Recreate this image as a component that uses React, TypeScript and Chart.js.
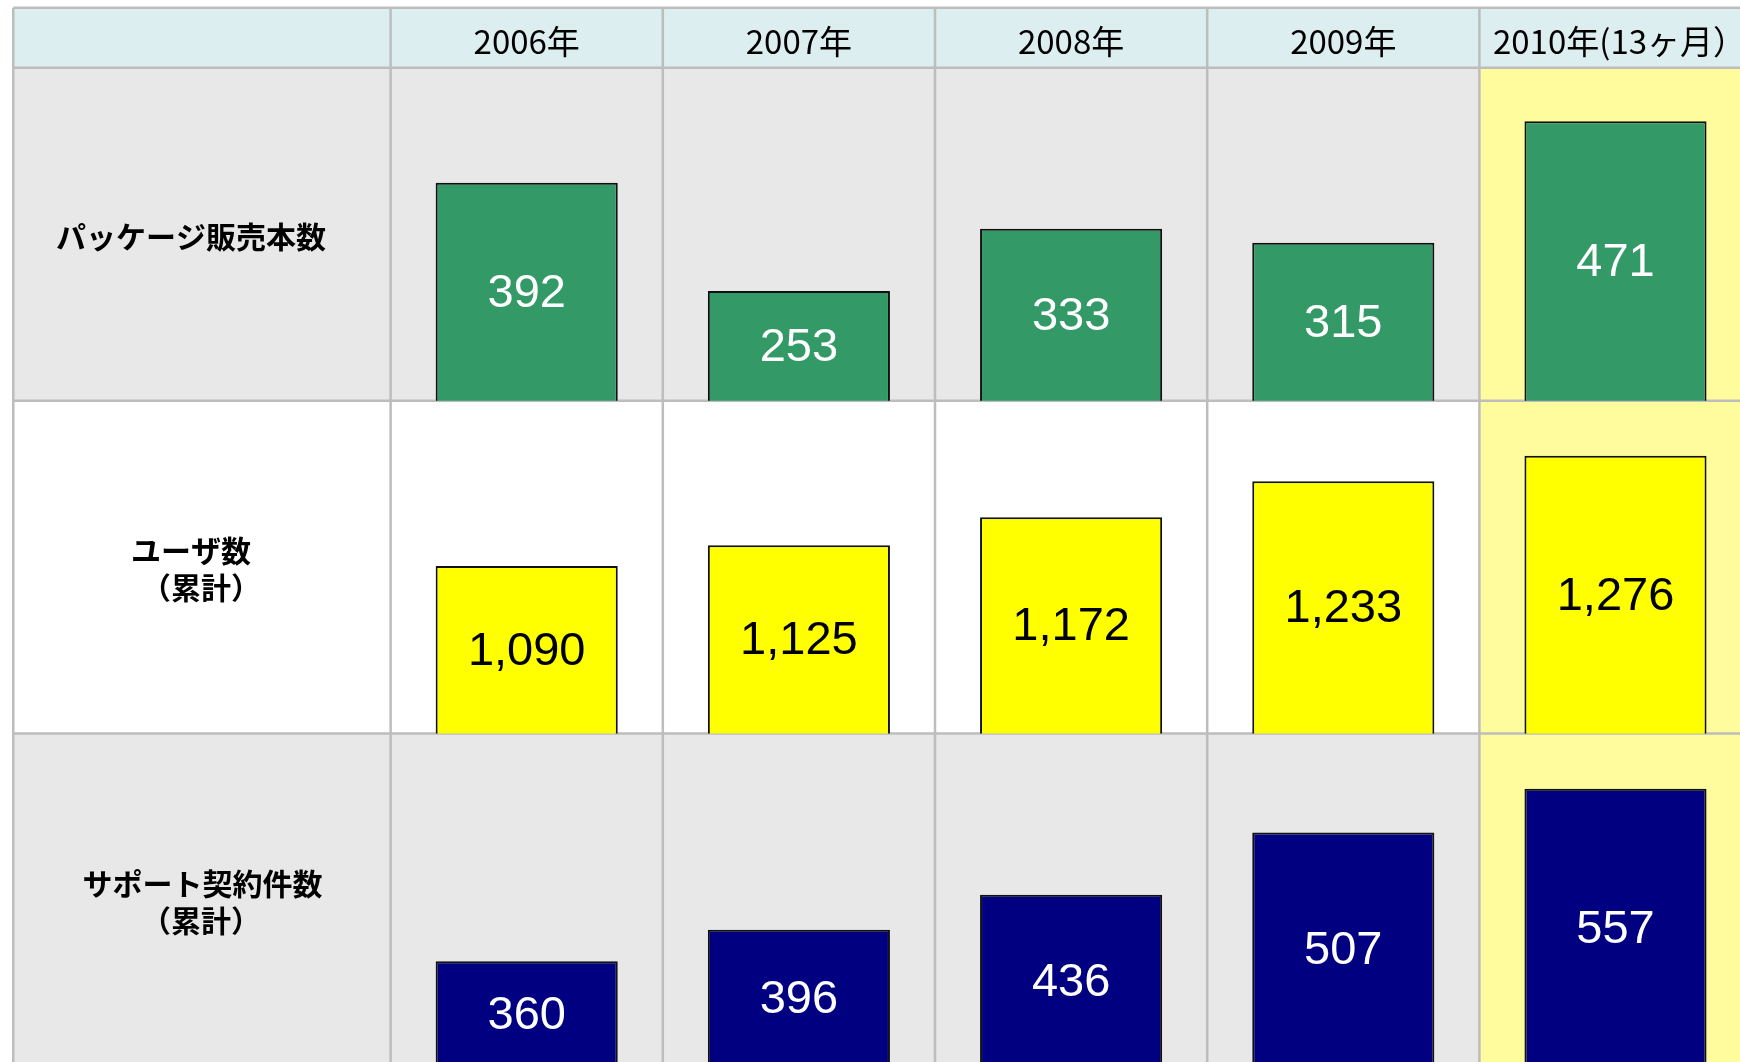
import React, { useEffect, useRef } from "react";
import { Chart, registerables } from "chart.js";

Chart.register(...registerables);

const years = ["2006年", "2007年", "2008年", "2009年", "2010年(13ヶ月）"];
const packageSales = [392, 253, 333, 315, 471];
const usersTotal = [1090, 1125, 1172, 1233, 1276];
const supportContracts = [360, 396, 436, 507, 557];
const rowLabels = [["パッケージ販売本数"], ["ユーザ数", "（累計）"], ["サポート契約件数", "（累計）"]];

const GRID = "#BDBDBD";
const ROW_BG = ["#E8E8E8", "#FFFFFF", "#E8E8E8"];
const HEADER_BG = "#DCEEF0";
const HIGHLIGHT_BG = "#FEFC9C";
const TABLE_LEFT = 13.3;
const TABLE_TOP = 7.8;

const tablePlugin = {
  id: "tableGrid",
  beforeDatasetsDraw(chart: any) {
    const { ctx, chartArea: a, scales } = chart;
    const W = chart.width;
    const colW = (a.right - a.left) / years.length;
    const rows = [scales.y1, scales.y2, scales.y3];
    ctx.save();
    ctx.fillStyle = HEADER_BG;
    ctx.fillRect(TABLE_LEFT, TABLE_TOP, W - TABLE_LEFT, a.top - TABLE_TOP);
    rows.forEach((s: any, i: number) => {
      ctx.fillStyle = ROW_BG[i];
      ctx.fillRect(TABLE_LEFT, s.top, W - TABLE_LEFT, s.bottom - s.top);
    });
    ctx.fillStyle = HIGHLIGHT_BG;
    ctx.fillRect(a.left + colW * (years.length - 1), a.top, colW, a.bottom - a.top);
    ctx.strokeStyle = GRID;
    ctx.lineWidth = 2.5;
    ctx.beginPath();
    const vx = [TABLE_LEFT];
    for (let i = 0; i <= years.length; i++) vx.push(a.left + colW * i);
    vx.forEach((x) => {
      ctx.moveTo(x, TABLE_TOP);
      ctx.lineTo(x, a.bottom);
    });
    const hy = [TABLE_TOP, a.top];
    rows.forEach((s: any) => hy.push(s.bottom));
    hy.forEach((y) => {
      ctx.moveTo(TABLE_LEFT, y);
      ctx.lineTo(W, y);
    });
    ctx.stroke();
    ctx.fillStyle = "#000";
    ctx.textAlign = "center";
    ctx.textBaseline = "middle";
    ctx.font = '33px "Noto Sans CJK JP"';
    years.forEach((t, i) => {
      ctx.fillText(t, scales.x.getPixelForValue(i) + (i === years.length - 1 ? 4 : 0), 41);
    });
    ctx.font = 'bold 30px "Noto Sans CJK JP"';
    const lineOffsets = [[-11], [-11, -1], [0.5, -1]];
    rows.forEach((s: any, i: number) => {
      const lines = rowLabels[i];
      const cy = (s.top + s.bottom) / 2;
      const lh = 37;
      lines.forEach((ln, j) => {
        const y = cy + (j - (lines.length - 1) / 2) * lh + 2;
        ctx.fillText(ln, (TABLE_LEFT + a.left) / 2 + lineOffsets[i][j], y);
      });
    });
    ctx.restore();
  },
  afterDatasetsDraw(chart: any) {
    const { ctx } = chart;
    ctx.save();
    ctx.textAlign = "center";
    ctx.textBaseline = "middle";
    ctx.font = '47px "Liberation Sans", Arial, sans-serif';
    chart.data.datasets.forEach((ds: any, di: number) => {
      const meta = chart.getDatasetMeta(di);
      const yScale = chart.scales[meta.yAxisID];
      const basePx = yScale.getPixelForValue(yScale.min);
      meta.data.forEach((bar: any, i: number) => {
        const v = ds.data[i];
        ctx.fillStyle = ds.labelColor;
        ctx.fillText(v.toLocaleString("en-US"), bar.x, (bar.y + basePx) / 2 + 2);
      });
    });
    ctx.restore();
  },
};

export default function App() {
  const ref = useRef<HTMLCanvasElement>(null);
  useEffect(() => {
    const canvas = ref.current!;
    const barCommon = {
      borderColor: "#111111",
      borderWidth: 2,
      grouped: false,
      barPercentage: 0.669,
      categoryPercentage: 1,
    };
    const chart = new Chart(canvas, {
      type: "bar",
      data: {
        labels: years,
        datasets: [
          { label: rowLabels[0].join(""), data: packageSales, yAxisID: "y1", backgroundColor: "#339966", labelColor: "#FFFFFF", ...barCommon } as any,
          { label: rowLabels[1].join(""), data: usersTotal, yAxisID: "y2", backgroundColor: "#FFFF00", labelColor: "#000000", ...barCommon } as any,
          { label: rowLabels[2].join(""), data: supportContracts, yAxisID: "y3", backgroundColor: "#000080", labelColor: "#FFFFFF", ...barCommon } as any,
        ],
      },
      options: {
        responsive: false,
        animation: false,
        events: [],
        layout: { padding: { left: 390.6, top: 67.7, right: 8.4, bottom: 13.5 } },
        plugins: { legend: { display: false }, tooltip: { enabled: false } },
        scales: {
          x: { type: "category", display: false, offset: true, grid: { display: false } },
          y1: { type: "linear", display: false, position: "left", min: 112, max: 540, stack: "rows", stackWeight: 1, weight: 3 } as any,
          y2: { type: "linear", display: false, position: "left", min: 807, max: 1369, stack: "rows", stackWeight: 1, weight: 2 } as any,
          y3: { type: "linear", display: false, position: "left", min: 240, max: 620, stack: "rows", stackWeight: 1, weight: 1 } as any,
        },
      },
      plugins: [tablePlugin],
    });
    return () => chart.destroy();
  }, []);
  return (
    <div style={{ position: "fixed", left: 0, top: 0, width: "100vw", height: "100vh", overflow: "hidden", background: "#fff" }}>
      <canvas ref={ref} width={1760} height={1080} style={{ display: "block", width: 1760, height: 1080 }} />
    </div>
  );
}
